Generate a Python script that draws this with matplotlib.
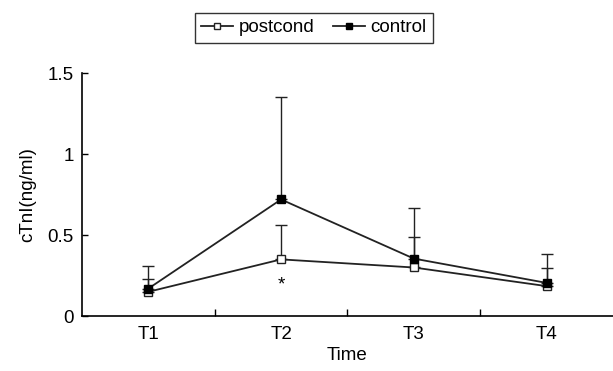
import numpy as np
import matplotlib
matplotlib.use('Agg')
from matplotlib import pyplot as plt
from matplotlib.lines import Line2D

plt.rcParams['font.family'] = ['Liberation Sans', 'DejaVu Sans']

times = ['T1', 'T2', 'T3', 'T4']
postcond = [0.15, 0.35, 0.30, 0.185]
postcond_err = [0.08, 0.21, 0.19, 0.11]
control = [0.17, 0.72, 0.355, 0.205]
control_err = [0.14, 0.635, 0.31, 0.18]

x = np.arange(len(times)) + 0.5
lc = '#222222'
fs = 13.5

fig = plt.figure(figsize=(6.13, 3.71), dpi=100)
ax = fig.add_axes([0.1338, 0.148, 0.866, 0.655])

ax.errorbar(x, postcond, yerr=[np.zeros(4), postcond_err], color=lc, lw=1.3,
            marker='s', ms=6, mfc='white', mec=lc, mew=1.0,
            capsize=4, elinewidth=1.0, capthick=1.0)
ax.errorbar(x, control, yerr=[np.zeros(4), control_err], color=lc, lw=1.3,
            marker='s', ms=6, mfc='black', mec='black',
            capsize=4, elinewidth=1.0, capthick=1.0)
ax.text(x[1], 0.19, '*', ha='center', va='center', fontsize=fs)

ax.set_xlim(0, 4)
ax.set_ylim(0, 1.5)
ax.set_yticks([0, 0.5, 1, 1.5])
ax.set_yticklabels(['0', '0.5', '1', '1.5'])
ax.set_xticks([1, 2, 3])
ax.set_xticklabels([])
ax.set_xticks(x, minor=True)
ax.set_xticklabels(times, minor=True)
ax.tick_params(axis='x', which='major', direction='in', length=5, width=1)
ax.tick_params(axis='x', which='minor', length=0, pad=7, labelsize=fs)
ax.tick_params(axis='y', direction='in', length=4, width=1, labelsize=fs, pad=6)
for s in ['top', 'right']:
    ax.spines[s].set_visible(False)
for s in ['left', 'bottom']:
    ax.spines[s].set_linewidth(1.2)

ax.set_xlabel('Time', fontsize=fs, labelpad=3)
ax.set_ylabel('cTnI(ng/ml)', fontsize=fs, labelpad=8)

handles = [Line2D([], [], color=lc, lw=1.3, marker='s', ms=5, mfc='white', mec=lc),
           Line2D([], [], color=lc, lw=1.3, marker='s', ms=5, mfc='black', mec='black')]
leg = fig.legend(handles, ['postcond', 'control'], loc='upper center',
                 bbox_to_anchor=(0.512, 0.99),
                 ncol=2, fontsize=fs, frameon=True, fancybox=False,
                 edgecolor='black', handlelength=1.7, handletextpad=0.3,
                 columnspacing=1.0, borderpad=0.33)
leg.get_frame().set_linewidth(1.0)

fig.savefig('out.png', dpi=100)
